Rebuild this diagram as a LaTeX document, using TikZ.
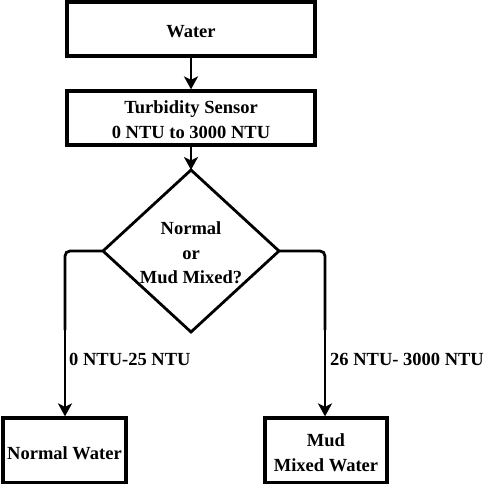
\documentclass[tikz,border=0pt]{standalone}
\usepackage{fontspec}
\setmainfont{Liberation Serif}
\usetikzlibrary{arrows.meta,positioning}
\begin{document}
\begin{tikzpicture}[x=1pt,y=-1pt,
  box/.style={draw,line width=3.2pt,inner sep=0pt},
  txt/.style={inner sep=0pt,align=center,font=\bfseries\fontsize{18.5}{25}\selectfont},
  lbl/.style={font=\bfseries\fontsize{18.5}{22}\selectfont,inner sep=0pt,anchor=west},
  conn/.style={line width=2.8pt,-{Stealth[length=13pt,width=14pt,inset=3.5pt]}},
  plain/.style={line width=2.8pt,rounded corners=5pt}]
\useasboundingbox (0,0) rectangle (485,484);
\node[box,minimum width=248pt,minimum height=54pt] (water) at (191,29) {};
\node[txt] (waterT) at (191,31.5) {Water};
\node[box,minimum width=248pt,minimum height=54pt] (sensor) at (191,118) {};
\node[txt] (sensorT) at (191,120) {Turbidity Sensor\\0 NTU to 3000 NTU};
\draw[line width=2.8pt,line join=miter] (191,170) coordinate (dt) -- (279,251) coordinate (dr) -- (191,332) coordinate (db) -- (103,251) coordinate (dl) -- cycle;
\node[txt,font=\bfseries\fontsize{18.5}{24.5}\selectfont] (dec) at (191,253) {Normal\\or\\Mud Mixed?};
\node[box,minimum width=123pt,minimum height=65pt] (normal) at (64.5,450.5) {};
\node[txt] (normalT) at (64.5,453) {Normal Water};
\node[box,minimum width=122pt,minimum height=65pt] (mud) at (326,450.5) {};
\node[txt] (mudT) at (326,453) {Mud\\Mixed Water};
\draw[conn] (water) -- (sensor);
\draw[conn] (sensor) -- (dt);
\draw[plain] (dl) -| (65,330);
\draw[conn] (65,325) -- (normal.north -| 65,0);
\draw[plain] (dr) -| (325,330);
\draw[conn] (325,325) -- (mud.north -| 325,0);
\node[lbl] (l1) at (69,359) {0 NTU-25 NTU};
\node[lbl] (l2) at (330,359) {26 NTU- 3000 NTU};
\end{tikzpicture}
\end{document}
